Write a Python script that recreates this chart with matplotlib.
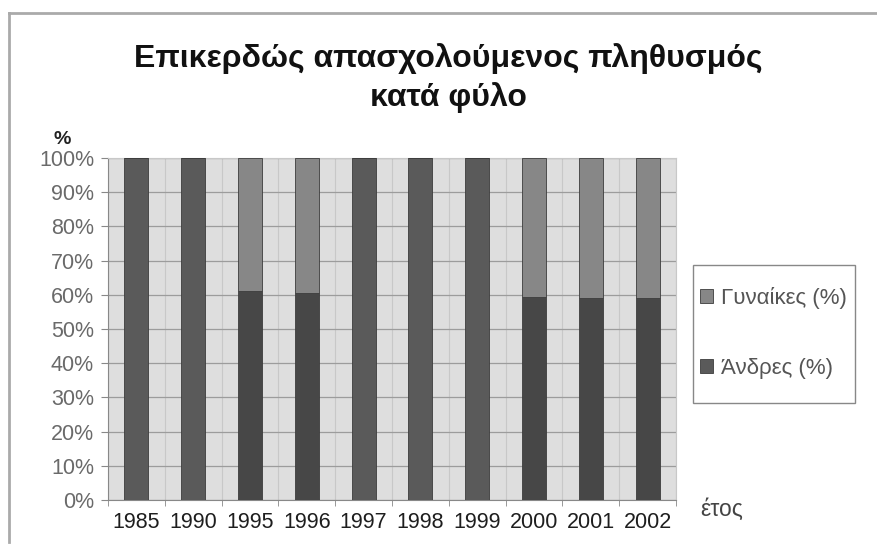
import matplotlib.pyplot as plt
from matplotlib.patches import Rectangle
import numpy as np

# Δεδομένα (ανάγνωση από το διάγραμμα)
eti = ['1985', '1990', '1995', '1996', '1997', '1998', '1999', '2000', '2001', '2002']
andres = [100, 100, 61.1, 60.6, 100, 100, 100, 59.4, 59.0, 59.0]
gynaikes = [0, 0, 38.9, 39.4, 0, 0, 0, 40.6, 41.0, 41.0]

plt.rcParams['font.family'] = ['Liberation Sans', 'DejaVu Sans']

fig = plt.figure(figsize=(8.77, 5.46), dpi=100)
ax = fig.add_axes([108 / 877, 1 - 500 / 546, 568 / 877, 342 / 546])

x = np.arange(len(eti))
# οι μπάρες χωρίς στοιχεία για γυναίκες φαίνονται λίγο πιο ανοιχτές
chrwmata_andres = ['#5a5a5a' if g == 0 else '#474747' for g in gynaikes]

ax.bar(x, andres, width=0.42, color=chrwmata_andres, edgecolor='#3c3c3c', linewidth=0.6,
       label='Άνδρες (%)', zorder=3)
ax.bar(x, gynaikes, width=0.42, bottom=andres, color='#878787', edgecolor='#3c3c3c',
       linewidth=0.6, label='Γυναίκες (%)', zorder=3)

ax.set_facecolor('#dedede')
ax.set_xlim(-0.5, len(eti) - 0.5)
ax.set_ylim(0, 100)
ax.set_yticks(range(0, 101, 10))
ax.set_yticklabels([f'{v}%' for v in range(0, 101, 10)], color='#6a6a6a', fontsize=15.5)
ax.set_xticks(x)
ax.set_xticklabels(eti, color='#1e1e1e', fontsize=15.5)
ax.set_xticks(np.arange(-0.5, len(eti), 1), minor=True)

ax.grid(axis='y', color='#9c9c9c', linewidth=0.9, zorder=1)
ax.grid(axis='x', which='minor', color='#c8c8c8', linewidth=0.8, zorder=1)
ax.tick_params(axis='x', which='major', length=0, pad=9)
ax.tick_params(axis='x', which='minor', length=4, color='#888888', direction='out')
ax.tick_params(axis='y', length=5, color='#888888', pad=5)

for s in ['top', 'right']:
    ax.spines[s].set_color('#c8c8c8')
for s in ['left', 'bottom']:
    ax.spines[s].set_color('#888888')

fig.text(0.511, 1 - 78 / 546, 'Επικερδώς απασχολούμενος πληθυσμός\nκατά φύλο',
         ha='center', va='center', fontsize=23, fontweight='bold', linespacing=1.33,
         color='#111111')
fig.text(62 / 877, 1 - 140 / 546, '%', ha='center', va='center', fontsize=14,
         fontweight='bold', color='#222222')
fig.text(722 / 877, 1 - 509 / 546, 'έτος', ha='center', va='center', fontsize=16.5,
         color='#444444')

# υπόμνημα με χειροποίητο πλαίσιο
fig.add_artist(Rectangle((693 / 877, 1 - 403 / 546), 162 / 877, 138 / 546, transform=fig.transFigure,
                         facecolor='white', edgecolor='#888888', linewidth=1.0))
h, l = ax.get_legend_handles_labels()
leg = fig.legend(h[::-1], l[::-1], loc='center left', bbox_to_anchor=(700 / 877, 1 - 333 / 546),
                 fontsize=16, frameon=False, labelspacing=2.2, handlelength=0.6,
                 handleheight=0.6, handletextpad=0.35, borderpad=0, borderaxespad=0)
for t in leg.get_texts():
    t.set_color('#555555')

# πλαίσιο γύρω από το διάγραμμα (πάνω και αριστερά)
fig.add_artist(plt.Line2D([9 / 877, 1], [1 - 13 / 546, 1 - 13 / 546], color='#aaaaaa', lw=2))
fig.add_artist(plt.Line2D([9 / 877, 9 / 877], [1 - 13 / 546, 1 - 542 / 546], color='#aaaaaa', lw=2))

fig.savefig('out.png', dpi=100)
